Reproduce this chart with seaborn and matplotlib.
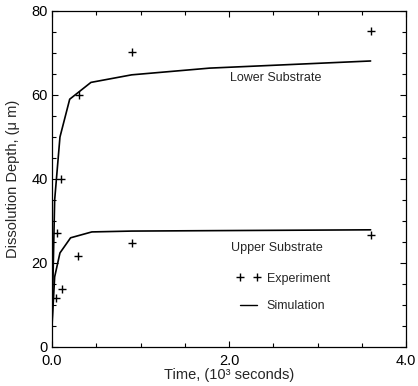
import matplotlib
matplotlib.use("Agg")
import matplotlib.pyplot as plt
from matplotlib.lines import Line2D
from matplotlib.ticker import MultipleLocator, FixedLocator
import seaborn as sns
import pandas as pd

# Simulation curves (time in 10^3 s, depth in um)
sim_lower_t = [0.0, 0.03, 0.09, 0.2, 0.44, 0.9, 1.78, 3.6]
sim_lower_d = [5.0, 35.0, 50.0, 59.0, 63.0, 64.8, 66.4, 68.1]
sim_upper_t = [0.0, 0.03, 0.09, 0.21, 0.45, 0.9, 1.78, 3.6]
sim_upper_d = [5.0, 16.7, 22.4, 26.0, 27.4, 27.6, 27.7, 27.9]

# Experimental points
exp_lower_t = [0.06, 0.10, 0.30, 0.90, 3.61]
exp_lower_d = [27.1, 40.0, 60.0, 70.3, 75.2]
exp_upper_t = [0.05, 0.11, 0.29, 0.90, 3.61]
exp_upper_d = [11.7, 13.8, 21.7, 24.8, 26.7]

x_ticks = [0.0, 2.0, 4.0]
x_tick_labels = ["0.0", "2.0", "4.0"]
y_ticks = [0, 20, 40, 60, 80]

sns.set_style("ticks")
plt.rcParams['font.family'] = ['Liberation Sans', 'DejaVu Sans']

fig = plt.figure(figsize=(4.18, 3.86), dpi=100)
ax = fig.add_axes([52/418, 1-347/386, (406-52)/418, (347-11)/386])

sim = pd.concat([
    pd.DataFrame({"t": sim_lower_t, "d": sim_lower_d, "s": "Lower"}),
    pd.DataFrame({"t": sim_upper_t, "d": sim_upper_d, "s": "Upper"}),
])
exp = pd.concat([
    pd.DataFrame({"t": exp_lower_t, "d": exp_lower_d, "s": "Lower"}),
    pd.DataFrame({"t": exp_upper_t, "d": exp_upper_d, "s": "Upper"}),
])

sns.lineplot(data=sim, x="t", y="d", units="s", estimator=None, color="black",
             linewidth=1.2, sort=False, ax=ax, legend=False)
sns.scatterplot(data=exp, x="t", y="d", marker="+", color="black", s=40,
                linewidth=1.0, ax=ax, legend=False)

ax.set_xlim(0, 4.0)
ax.set_ylim(0, 80)
ax.xaxis.set_major_locator(FixedLocator(x_ticks))
ax.set_xticklabels(x_tick_labels)
ax.xaxis.set_minor_locator(MultipleLocator(0.5))
ax.yaxis.set_major_locator(FixedLocator(y_ticks))
ax.yaxis.set_minor_locator(MultipleLocator(5))
ax.tick_params(which="both", direction="in", top=True, right=True,
               labelsize=10.5, width=0.8, color="black", labelcolor="black")
ax.tick_params(which="major", length=4)
ax.tick_params(axis="y", which="major", pad=3)
ax.tick_params(axis="x", which="major", pad=5)
ax.tick_params(which="minor", length=3)
for sp in ax.spines.values():
    sp.set_linewidth(0.9)
    sp.set_color("black")

ax.set_xlabel("Time, (10\u00b3 seconds)", fontsize=10.5)
ax.xaxis.set_label_coords(0.5, -0.062)
ax.set_ylabel("Dissolution Depth, (\u03bc m)", fontsize=10.5)
ax.yaxis.set_label_coords(-0.090, 0.5)

ax.text(2.53, 64, "Lower Substrate", fontsize=9, ha="center", va="center")
ax.text(2.54, 23.6, "Upper Substrate", fontsize=9, ha="center", va="center")

handles = [
    Line2D([], [], color="black", marker="+", linestyle="none", markersize=6,
           markeredgewidth=1.0),
    Line2D([], [], color="black", linewidth=1.0),
]
leg = ax.legend(handles, ["Experiment", "Simulation"], loc="lower left",
                bbox_to_anchor=(0.49, 0.07), frameon=False, fontsize=9,
                numpoints=2, handlelength=1.9, handletextpad=0.5,
                labelspacing=1.25)

fig.savefig("out.png", dpi=100)
